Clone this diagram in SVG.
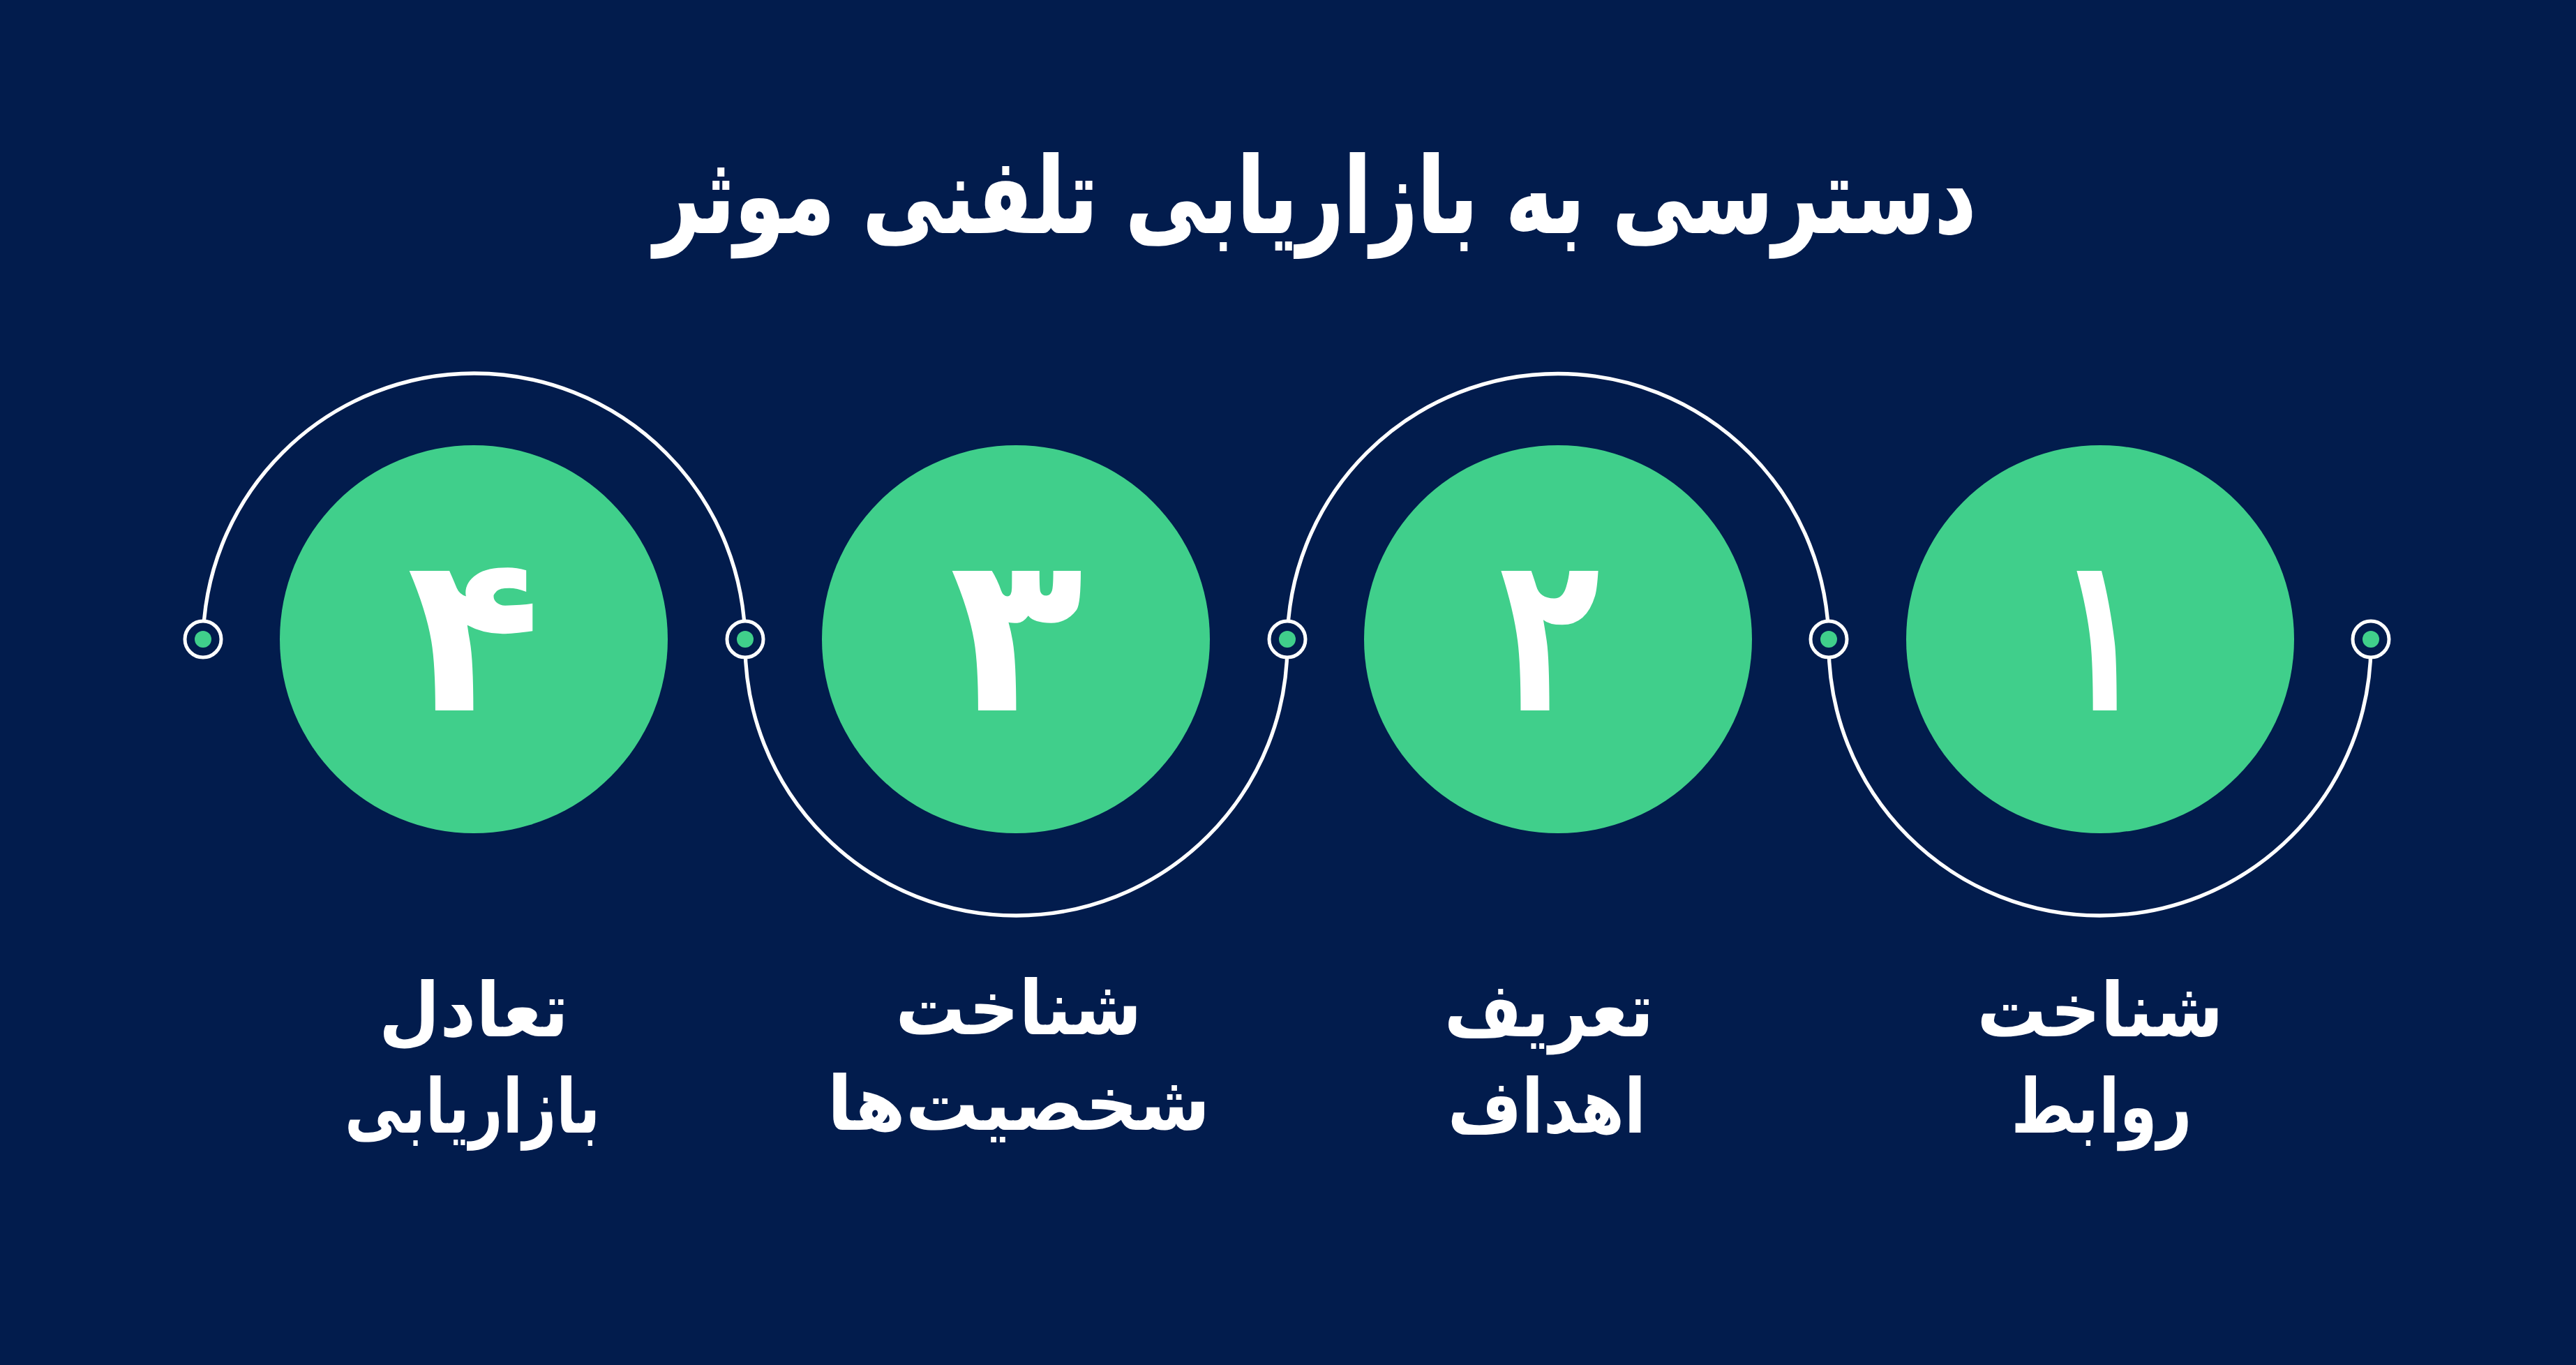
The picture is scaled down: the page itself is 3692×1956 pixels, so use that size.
<svg xmlns="http://www.w3.org/2000/svg" width="3692" height="1956" viewBox="0 0 3692 1956">
<style>
.bg{fill:#021C4D}
.disc{fill:#40CF8B}
.arc{fill:none;stroke:#FFFFFF;stroke-width:5.3}
.ring{fill:#021C4D;stroke:#FFFFFF;stroke-width:5}
.dot{fill:#40CF8B}
.title{font-family:"DejaVu Sans",sans-serif;font-weight:bold;font-size:150px;fill:#FFFFFF;stroke:#FFFFFF;stroke-width:2;text-anchor:middle;direction:rtl}
.num{font-family:"DejaVu Sans",sans-serif;font-weight:bold;font-size:315px;fill:#FFFFFF;text-anchor:middle}
.lbl{font-family:"DejaVu Sans",sans-serif;font-weight:bold;font-size:108px;fill:#FFFFFF;text-anchor:middle;direction:rtl}
</style>
<rect class="bg" x="0" y="0" width="3692" height="1956"/>
<text class="title" x="1885" y="333" textLength="1894" lengthAdjust="spacingAndGlyphs">دسترسی به بازاریابی تلفنی موثر</text>
<g id="connectors">
<path class="arc" d="M 291 923.5 A 388 388 0 0 1 1068 923.5"/>
<path class="arc" d="M 1068 923.5 A 388 388 0 0 0 1845 923.5"/>
<path class="arc" d="M 1845 923.5 A 388 388 0 0 1 2621 923.5"/>
<path class="arc" d="M 2621 923.5 A 388 388 0 0 0 3398 923.5"/>
<circle class="ring" cx="291" cy="916" r="26"/><circle class="dot" cx="291" cy="916" r="12"/>
<circle class="ring" cx="1068" cy="916" r="26"/><circle class="dot" cx="1068" cy="916" r="12"/>
<circle class="ring" cx="1845" cy="916" r="26"/><circle class="dot" cx="1845" cy="916" r="12"/>
<circle class="ring" cx="2621" cy="916" r="26"/><circle class="dot" cx="2621" cy="916" r="12"/>
<circle class="ring" cx="3398" cy="916" r="26"/><circle class="dot" cx="3398" cy="916" r="12"/>
</g>
<g id="node1">
<circle class="disc" cx="3010" cy="916" r="278"/>
<text class="num" x="3009" y="1018" textLength="120" lengthAdjust="spacingAndGlyphs">۱</text>
<text class="lbl" x="3010" y="1485" textLength="353" lengthAdjust="spacingAndGlyphs">شناخت</text>
<text class="lbl" x="3012" y="1623" textLength="259" lengthAdjust="spacingAndGlyphs">روابط</text>
</g>
<g id="node2">
<circle class="disc" cx="2233" cy="916" r="278"/>
<text class="num" x="2221" y="1018" textLength="145" lengthAdjust="spacingAndGlyphs">۲</text>
<text class="lbl" x="2220" y="1485" textLength="300" lengthAdjust="spacingAndGlyphs">تعریف</text>
<text class="lbl" x="2217" y="1623" textLength="284" lengthAdjust="spacingAndGlyphs">اهداف</text>
</g>
<g id="node3">
<circle class="disc" cx="1456" cy="916" r="278"/>
<text class="num" x="1457" y="1018">۳</text>
<text class="lbl" x="1460" y="1482" textLength="353" lengthAdjust="spacingAndGlyphs">شناخت</text>
<text class="lbl" x="1460" y="1619" textLength="549" lengthAdjust="spacingAndGlyphs">شخصیت‌ها</text>
</g>
<g id="node4">
<circle class="disc" cx="679" cy="916" r="278"/>
<text class="num" x="679" y="1018">۴</text>
<text class="lbl" x="679" y="1485" textLength="272" lengthAdjust="spacingAndGlyphs">تعادل</text>
<text class="lbl" x="677" y="1623" textLength="366" lengthAdjust="spacingAndGlyphs">بازاریابی</text>
</g>
</svg>
